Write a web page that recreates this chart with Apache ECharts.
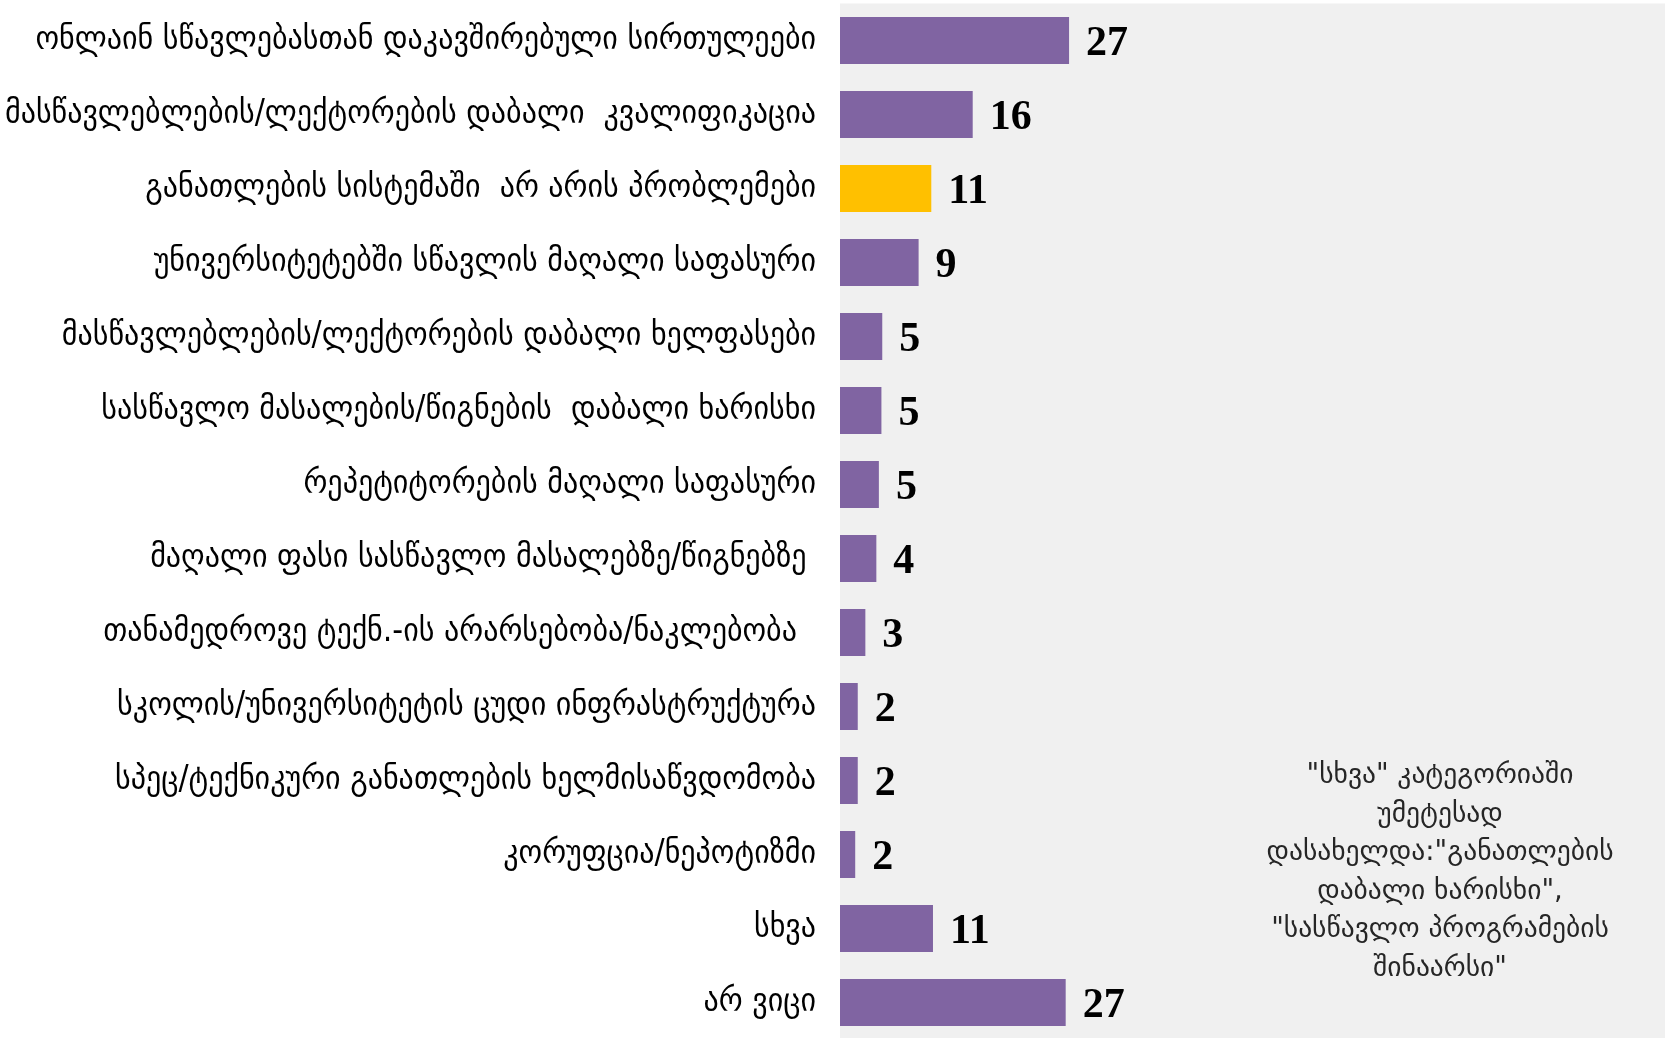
<!DOCTYPE html>
<html>
<head>
<meta charset="utf-8">
<script src="https://cdn.jsdelivr.net/npm/echarts@6/dist/echarts.min.js"></script>
<style>
html,body{margin:0;padding:0;background:#fff;}
#chart{width:1665px;height:1038px;}
</style>
</head>
<body>
<div id="chart"></div>
<script>
const categories = [
  'ონლაინ სწავლებასთან დაკავშირებული სირთულეები',
  'მასწავლებლების/ლექტორების დაბალი  კვალიფიკაცია',
  'განათლების სისტემაში  არ არის პრობლემები',
  'უნივერსიტეტებში სწავლის მაღალი საფასური',
  'მასწავლებლების/ლექტორების დაბალი ხელფასები',
  'სასწავლო მასალების/წიგნების  დაბალი ხარისხი',
  'რეპეტიტორების მაღალი საფასური',
  'მაღალი ფასი სასწავლო მასალებზე/წიგნებზე ',
  'თანამედროვე ტექნ.-ის არარსებობა/ნაკლებობა  ',
  'სკოლის/უნივერსიტეტის ცუდი ინფრასტრუქტურა',
  'სპეც/ტექნიკური განათლების ხელმისაწვდომობა',
  'კორუფცია/ნეპოტიზმი',
  'სხვა',
  'არ ვიცი'
];
const values = [27.1, 15.7, 10.8, 9.3, 5.0, 4.9, 4.6, 4.3, 3.0, 2.1, 2.1, 1.8, 11.0, 26.7];
const highlightCategory = 'განათლების სისტემაში  არ არის პრობლემები';
const noteLines = [
  '"სხვა" კატეგორიაში',
  'უმეტესად',
  'დასახელდა:"განათლების',
  'დაბალი ხარისხი",',
  '"სასწავლო პროგრამების',
  'შინაარსი"'
];

const PURPLE = '#8064A2';
const YELLOW = '#FFC000';
const LABEL_FONT = '"DejaVu Sans Condensed"';

// fit category label size so the labels span like the original
const cv = document.createElement('canvas').getContext('2d');
cv.font = '100px ' + LABEL_FONT;
const w100 = cv.measureText(categories[0]).width;
const labelSize = Math.round(100 * 780 / w100 * 10) / 10;

const chart = echarts.init(document.getElementById('chart'), null, {renderer: 'canvas'});
const data = values.map((v, i) => ({
  value: v,
  itemStyle: {color: categories[i] === highlightCategory ? YELLOW : PURPLE}
}));

chart.setOption({
  backgroundColor: '#ffffff',
  animation: false,
  grid: {
    left: 840, width: 825, top: 3.5, height: 1036,
    show: true, backgroundColor: '#f0f0f0', borderWidth: 0,
    containLabel: false, outerBoundsMode: 'none'
  },
  xAxis: {
    type: 'value', min: 0, max: 97.6,
    show: false, splitLine: {show: false}
  },
  yAxis: {
    type: 'category', inverse: true, data: categories,
    axisLine: {show: false}, axisTick: {show: false},
    axisLabel: {
      margin: 24, fontSize: labelSize, color: '#000',
      fontFamily: 'DejaVu Sans Condensed',
      padding: [6, 0, 0, 0]
    }
  },
  series: [{
    type: 'bar', data: data, barWidth: 47,
    label: {
      show: true, position: 'right', distance: 17,
      offset: [0, 4],
      formatter: p => String(Math.round(p.value)),
      fontFamily: 'Liberation Serif', fontWeight: 'bold',
      fontSize: 42, color: '#000'
    }
  }],
  graphic: [{
    type: 'text',
    x: 1440, y: 757,
    style: {
      text: noteLines.join('\n'),
      textAlign: 'center',
      font: '27.5px "DejaVu Sans"',
      lineHeight: 38.5,
      fill: '#262626'
    }
  }]
});
</script>
</body>
</html>
